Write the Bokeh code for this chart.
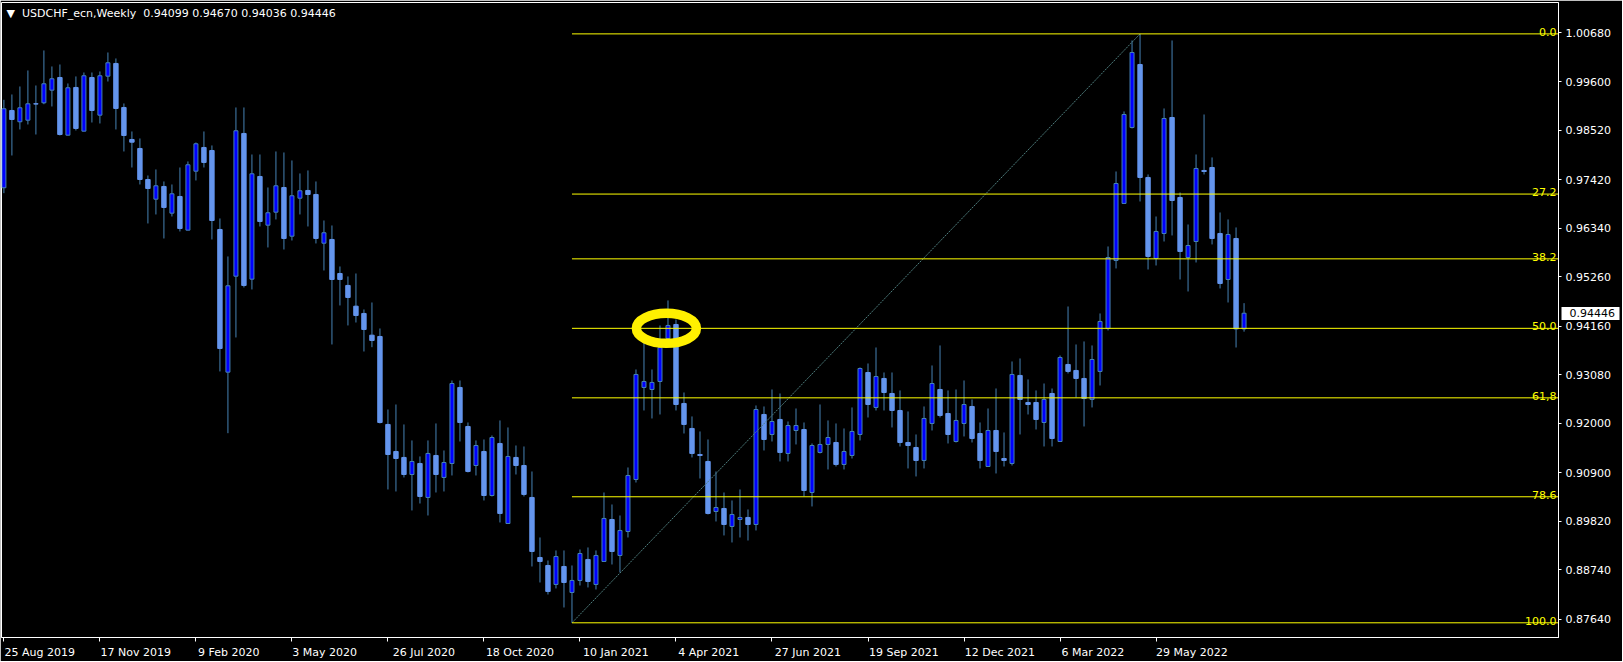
import numpy as np
from bokeh.plotting import figure
from bokeh.models import (ColumnDataSource, LinearAxis, FixedTicker, PrintfTickFormatter,
                          CustomJSTickFormatter, Label, Range1d)
from bokeh.embed import file_html
from bokeh.resources import INLINE
from bokeh.core.properties import value

symbol = "USDCHF_ecn,Weekly"

opens = [0.97237, 0.98956, 0.98705, 0.98740, 0.99105, 0.99127, 0.99408, 0.99690, 0.98407, 0.99468,
         0.98496, 0.99690, 0.98852, 0.99719, 1.00002, 0.99023, 0.98311, 0.98111, 0.97421, 0.96983,
         0.97266, 0.96672, 0.97043, 0.96294, 0.97606, 0.98133, 0.98066, 0.96309, 0.93135, 0.95270,
         0.98445, 0.95204, 0.97488, 0.96405, 0.96694, 0.97243, 0.96160, 0.97005, 0.97177, 0.97088,
         0.96004, 0.96087, 0.95330, 0.95064, 0.94603, 0.94441, 0.93958, 0.93929, 0.91972, 0.91371,
         0.91238, 0.90859, 0.91104, 0.90348, 0.91282, 0.90793, 0.91104, 0.92795, 0.91927, 0.91059,
         0.91371, 0.90392, 0.91549, 0.89769, 0.91238, 0.91059, 0.90348, 0.89013, 0.88835, 0.88413,
         0.88813, 0.88235, 0.88502, 0.88969, 0.88413, 0.88924, 0.89858, 0.89058, 0.89591, 0.90748,
         0.92795, 0.92750, 0.92928, 0.93885, 0.94196, 0.92439, 0.91883, 0.91304, 0.91149, 0.90036,
         0.90103, 0.89703, 0.89858, 0.89903, 0.89747, 0.92194, 0.91749, 0.92083, 0.91327, 0.91838,
         0.91860, 0.90459, 0.91349, 0.91527, 0.91571, 0.91082, 0.91282, 0.91749, 0.93128, 0.92350,
         0.92995, 0.92661, 0.92283, 0.91571, 0.91460, 0.91171, 0.91994, 0.92750, 0.92216, 0.91593,
         0.91994, 0.92372, 0.91771, 0.91037, 0.91838, 0.91215, 0.91104, 0.93062, 0.92461, 0.92461,
         0.92016, 0.92661, 0.91593, 0.93306, 0.93173, 0.92995, 0.92528, 0.93151, 0.94107, 0.95620,
         0.96888, 0.98578, 0.99979, 0.97466, 0.95664, 0.96220, 0.98800, 0.97021, 0.95686, 0.96042,
         0.97622, 0.97688, 0.96220, 0.95197, 0.96109, 0.94099]
highs = [0.99194, 0.99312, 0.99490, 0.99846, 0.99512, 1.00291, 0.99935, 0.99979, 0.99557, 0.99713,
         0.99801, 0.99801, 0.99824, 1.00246, 1.00113, 0.99112, 0.98489, 0.98333, 0.97510, 0.97644,
         0.97377, 0.97310, 0.97688, 0.97822, 0.98244, 0.98489, 0.98178, 0.96554, 0.95709, 0.99023,
         0.99023, 0.97977, 0.97977, 0.97243, 0.98044, 0.98022, 0.97844, 0.97555, 0.97622, 0.97377,
         0.96509, 0.96398, 0.95486, 0.95264, 0.95330, 0.94530, 0.94685, 0.94107, 0.92305, 0.92416,
         0.91972, 0.91616, 0.91260, 0.91616, 0.91994, 0.91393, 0.92950, 0.92950, 0.92016, 0.91616,
         0.91638, 0.91727, 0.92061, 0.91905, 0.91504, 0.91482, 0.90926, 0.89458, 0.88946, 0.89169,
         0.89169, 0.88835, 0.89191, 0.89236, 0.89169, 0.90459, 0.90192, 0.89947, 0.91015, 0.93195,
         0.93840, 0.93195, 0.94174, 0.94730, 0.94307, 0.92683, 0.92150, 0.91816, 0.91638, 0.90926,
         0.90459, 0.90281, 0.90526, 0.90081, 0.92394, 0.92372, 0.92750, 0.92661, 0.92038, 0.92327,
         0.92016, 0.91549, 0.92416, 0.92061, 0.91994, 0.91883, 0.92350, 0.93240, 0.93328, 0.93684,
         0.93128, 0.93128, 0.92728, 0.92261, 0.91749, 0.92372, 0.93284, 0.93729, 0.92728, 0.92750,
         0.92950, 0.92528, 0.92016, 0.92327, 0.92772, 0.91794, 0.93373, 0.93440, 0.92973, 0.92728,
         0.92883, 0.92772, 0.93506, 0.94596, 0.93751, 0.93818, 0.93729, 0.94441, 0.95931, 0.97599,
         0.98934, 1.00513, 1.00660, 0.97533, 0.96598, 0.99001, 1.00513, 0.97132, 0.96420, 0.97977,
         0.98867, 0.97911, 0.96687, 0.96532, 0.96354, 0.94670]
lows = [0.97117, 0.97955, 0.98534, 0.98645, 0.98422, 0.99096, 0.99045, 0.98400, 0.98400, 0.98511,
        0.98490, 0.98689, 0.98667, 0.99601, 0.98534, 0.98044, 0.97688, 0.97310, 0.96443, 0.96643,
        0.96109, 0.96598, 0.96265, 0.96290, 0.97399, 0.97688, 0.96087, 0.93151, 0.91778, 0.93907,
        0.95019, 0.94975, 0.96376, 0.95909, 0.96532, 0.95864, 0.96064, 0.96643, 0.96376, 0.95998,
        0.95397, 0.93751, 0.94619, 0.94174, 0.94240, 0.93595, 0.93691, 0.91994, 0.90526, 0.90481,
        0.90793, 0.90059, 0.90214, 0.89947, 0.90459, 0.90481, 0.90837, 0.91593, 0.90904, 0.90837,
        0.90281, 0.90370, 0.89792, 0.89765, 0.90859, 0.90370, 0.88813, 0.88457, 0.88190, 0.88324,
        0.87901, 0.87560, 0.88390, 0.88346, 0.88301, 0.88920, 0.88857, 0.88679, 0.89458, 0.90681,
        0.92283, 0.92105, 0.92194, 0.93818, 0.92283, 0.91771, 0.91238, 0.90770, 0.89970, 0.89814,
        0.89503, 0.89347, 0.89458, 0.89391, 0.89614, 0.91393, 0.91593, 0.91149, 0.91149, 0.91527,
        0.90370, 0.90148, 0.91327, 0.90971, 0.91037, 0.90971, 0.91215, 0.91616, 0.92127, 0.92283,
        0.92283, 0.91905, 0.91482, 0.90993, 0.90815, 0.90993, 0.91838, 0.92127, 0.91549, 0.91571,
        0.91705, 0.91571, 0.90993, 0.91030, 0.90882, 0.91037, 0.91059, 0.91749, 0.92194, 0.91860,
        0.91482, 0.91482, 0.91590, 0.93106, 0.92572, 0.91927, 0.92350, 0.92839, 0.94063, 0.95442,
        0.96880, 0.98556, 0.96932, 0.95419, 0.95508, 0.96042, 0.96176, 0.95197, 0.94930, 0.95575,
        0.97533, 0.95976, 0.94997, 0.94685, 0.93684, 0.94036]
closes = [0.98994, 0.98756, 0.99016, 0.99105, 0.99100, 0.99550, 0.99661, 0.98422, 0.99461, 0.98556,
          0.99728, 0.98956, 0.99728, 1.00017, 0.99001, 0.98400, 0.98251, 0.97421, 0.97221, 0.97281,
          0.96799, 0.97103, 0.96331, 0.97748, 0.98215, 0.97800, 0.96509, 0.93662, 0.95057, 0.98505,
          0.95064, 0.97548, 0.96487, 0.96681, 0.97281, 0.96109, 0.97059, 0.97170, 0.97088, 0.96109,
          0.96236, 0.95197, 0.95197, 0.94797, 0.94396, 0.94085, 0.93840, 0.92016, 0.91304, 0.91215,
          0.90859, 0.91149, 0.90370, 0.91327, 0.90859, 0.91126, 0.92883, 0.92016, 0.90926, 0.91504,
          0.90392, 0.91682, 0.89992, 0.91260, 0.91059, 0.90415, 0.89147, 0.88924, 0.88257, 0.89035,
          0.88457, 0.88502, 0.89102, 0.88479, 0.89058, 0.89881, 0.89147, 0.89614, 0.90837, 0.93084,
          0.92928, 0.92906, 0.93684, 0.94174, 0.92416, 0.91972, 0.91327, 0.91282, 0.89992, 0.90125,
          0.89747, 0.89970, 0.89903, 0.89747, 0.92305, 0.91638, 0.92038, 0.91349, 0.91949, 0.91949,
          0.90503, 0.91504, 0.91527, 0.91682, 0.91082, 0.91371, 0.91816, 0.93217, 0.92416, 0.93039,
          0.92683, 0.92283, 0.91571, 0.91504, 0.91171, 0.92105, 0.92883, 0.92172, 0.91749, 0.92061,
          0.92416, 0.91660, 0.91171, 0.91838, 0.91371, 0.91171, 0.93084, 0.92528, 0.92416, 0.92083,
          0.92528, 0.91660, 0.93462, 0.93151, 0.92995, 0.92550, 0.93417, 0.94263, 0.95686, 0.97332,
          0.98867, 1.00246, 0.97466, 0.95709, 0.96265, 0.98778, 0.96954, 0.95820, 0.95953, 0.97666,
          0.97599, 0.96109, 0.95108, 0.96198, 0.94099, 0.94446]

# x-axis tick labels (one every 12 weeks, starting with the first candle's week)
date_labels = ["25 Aug 2019", "17 Nov 2019", "9 Feb 2020", "3 May 2020", "26 Jul 2020",
               "18 Oct 2020", "10 Jan 2021", "4 Apr 2021", "27 Jun 2021", "19 Sep 2021",
               "12 Dec 2021", "6 Mar 2022", "29 May 2022"]
date_label_weeks = [0, 12, 24, 36, 48, 60, 72, 84, 96, 108, 120, 132, 144]

price_ticks = [1.00680, 0.99600, 0.98520, 0.97420, 0.96340, 0.95260, 0.94160,
               0.93080, 0.92000, 0.90900, 0.89820, 0.88740, 0.87640]

fib_levels = [0.0, 27.2, 38.2, 50.0, 61.8, 78.6, 100.0]
fib_labels = ["0.0", "27.2", "38.2", "50.0", "61,8", "78.6", "100.0"]
fib_low_week = 71
fib_high_week = 142
marked_week = 82.8          # centre of the highlighted ellipse (at the 50.0 level)

# ---------------------------------------------------------------- layout
FRAME_W, FRAME_H = 1557, 635
X0, X1 = -0.3, 194.3
Y0, Y1 = 0.87233, 1.01358
FONT = "DejaVu Sans"
BULL_FILL, BEAR_FILL, WICK = "#0000ff", "#6495ed", "#4682b4"
last_price = closes[-1]

p = figure(frame_width=FRAME_W, frame_height=FRAME_H,
           x_range=Range1d(X0, X1), y_range=Range1d(Y0, Y1),
           output_backend="svg", toolbar_location=None,
           x_axis_location=None, y_axis_location="right",
           min_border_left=1, min_border_top=2, min_border_right=64, min_border_bottom=24,
           background_fill_color="black", border_fill_color="black",
           outline_line_color="white", outline_line_width=1)
p.grid.visible = False

# price scale
yax = p.yaxis[0]
yax.ticker = FixedTicker(ticks=price_ticks, minor_ticks=[])
yax.formatter = PrintfTickFormatter(format="%.5f")
yax.axis_line_color = "white"
yax.major_tick_line_color = "white"
yax.major_tick_out = 3
yax.major_tick_in = 0
yax.minor_tick_line_color = None
yax.major_label_standoff = 4
yax.major_label_text_color = "white"
yax.major_label_text_font = FONT
yax.major_label_text_font_size = "11px"

# current-price marker: second right axis whose tick (drawn inward, back over the
# price scale) forms the white box and whose label is pulled back onto it
price_axis = LinearAxis(ticker=FixedTicker(ticks=[last_price], minor_ticks=[]),
                        formatter=PrintfTickFormatter(format="%.5f"),
                        major_tick_in=52, major_tick_out=6, major_tick_line_width=13,
                        major_tick_line_color="white", minor_tick_line_color=None,
                        axis_line_color=None, major_label_standoff=-50,
                        major_label_text_color="black",
                        major_label_text_font=FONT, major_label_text_font_size="11px")
p.add_layout(price_axis, "right")

tick_axis = LinearAxis(ticker=FixedTicker(ticks=date_label_weeks),
                       formatter=CustomJSTickFormatter(code="return ''"),
                       major_tick_out=4, major_tick_in=0, major_label_standoff=0,
                       axis_line_color="white", major_tick_line_color="white",
                       minor_tick_line_color=None, major_label_text_font_size="1px")
p.add_layout(tick_axis, "below")

px_per_week = FRAME_W / (X1 - X0)
label_pos = [w + (len(s) * 6.35 / 2 + 1) / px_per_week for w, s in zip(date_label_weeks, date_labels)]
label_axis = LinearAxis(ticker=FixedTicker(ticks=label_pos),
                        formatter=CustomJSTickFormatter(args=dict(labels=date_labels),
                                                        code="return labels[index]"),
                        major_tick_out=0, major_tick_in=0, major_label_standoff=4,
                        axis_line_color=None, major_tick_line_color=None,
                        minor_tick_line_color=None, major_label_text_color="white",
                        major_label_text_font=FONT, major_label_text_font_size="11px")
p.add_layout(label_axis, "below")

# ---------------------------------------------------------------- candles
o = np.array(opens); h = np.array(highs); l = np.array(lows); c = np.array(closes)
weeks = np.arange(len(o))
bull = c > o

p.segment(x0=weeks, y0=h, x1=weeks, y1=l, line_color=WICK, line_width=1)

bear_src = ColumnDataSource(dict(x=weeks[~bull], top=o[~bull], bottom=c[~bull]))
bull_src = ColumnDataSource(dict(x=weeks[bull], top=c[bull], bottom=o[bull]))
p.vbar(x="x", top="top", bottom="bottom", width=0.55, source=bear_src,
       fill_color=BEAR_FILL, line_color=BEAR_FILL, line_width=1)
p.vbar(x="x", top="top", bottom="bottom", width=0.5, source=bull_src,
       fill_color=BULL_FILL, line_color=WICK, line_width=1)

# ---------------------------------------------------------------- fibonacci
fib_lo = lows[fib_low_week]
fib_hi = highs[fib_high_week]
fib_prices = [fib_hi - lv / 100.0 * (fib_hi - fib_lo) for lv in fib_levels]
p.line(x=[fib_low_week, fib_high_week], y=[fib_lo, fib_hi],
       line_color="#4f7f7f", line_width=1, line_dash="2 1")
p.segment(x0=[fib_low_week] * len(fib_prices), y0=fib_prices,
          x1=[X1] * len(fib_prices), y1=fib_prices, line_color="#ffff00", line_width=1)
p.text(x=[X1] * len(fib_prices), y=fib_prices, text=fib_labels,
       text_align="right", text_baseline="alphabetic", x_offset=-2, y_offset=-2,
       text_color="#ffff00", text_font=value(FONT), text_font_size="11px")

p.ellipse(x=[marked_week], y=[fib_prices[3]], width=60, height=30,
          width_units="screen", height_units="screen",
          fill_color=None, line_color="#fff000", line_width=9.5)

# ---------------------------------------------------------------- header
head = "\u25BC\u00a0\u00a0" + symbol + "\u00a0\u00a0" + " ".join(
    f"{v:.5f}" for v in (opens[-1], highs[-1], lows[-1], closes[-1]))
p.add_layout(Label(x=5, y=FRAME_H - 11, x_units="screen", y_units="screen", text=head,
                   text_color="white", text_font=FONT, text_font_size="11px",
                   text_baseline="middle"))

html = file_html(p, INLINE, "USDCHF_ecn,Weekly")
html = html.replace("<body>", '<body style="background-color:#000000; margin:0; overflow:hidden;">', 1)
open("out.html", "w").write(html)
